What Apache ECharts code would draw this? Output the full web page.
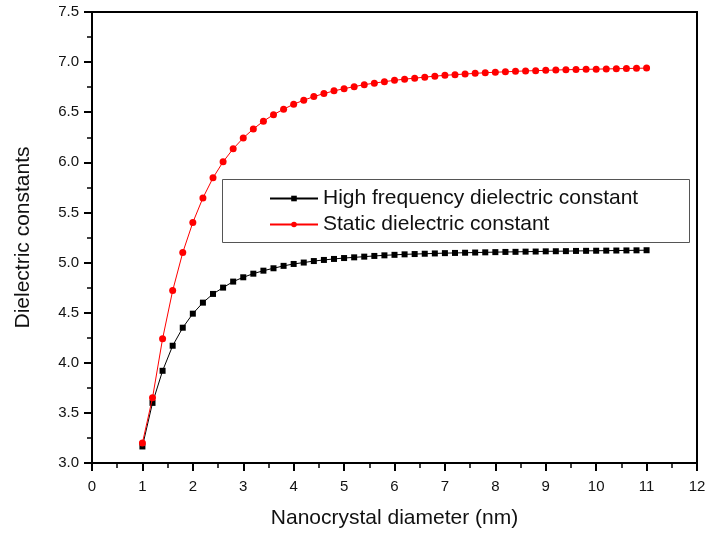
<!DOCTYPE html>
<html>
<head>
<meta charset="utf-8">
<script src="https://cdn.jsdelivr.net/npm/echarts@6/dist/echarts.min.js"></script>
<style>
  html, body { margin: 0; padding: 0; background: #fff; }
  #chart { width: 708px; height: 533px; }
</style>
</head>
<body>
<div id="chart"></div>
<script>
// Nanocrystal diameter (nm), sampled every 0.2 nm
const diameters = [
  1.0, 1.2, 1.4, 1.6, 1.8, 2.0, 2.2, 2.4, 2.6, 2.8,
  3.0, 3.2, 3.4, 3.6, 3.8, 4.0, 4.2, 4.4, 4.6, 4.8,
  5.0, 5.2, 5.4, 5.6, 5.8, 6.0, 6.2, 6.4, 6.6, 6.8,
  7.0, 7.2, 7.4, 7.6, 7.8, 8.0, 8.2, 8.4, 8.6, 8.8,
  9.0, 9.2, 9.4, 9.6, 9.8, 10.0, 10.2, 10.4, 10.6, 10.8, 11.0
];

// High frequency dielectric constant
const highFreq = [
  3.165, 3.60, 3.92, 4.17, 4.35, 4.49, 4.60, 4.687, 4.75, 4.81,
  4.853, 4.889, 4.919, 4.943, 4.967, 4.986, 5.000, 5.015, 5.026, 5.036,
  5.045, 5.052, 5.059, 5.066, 5.072, 5.077, 5.082, 5.085, 5.088, 5.091,
  5.094, 5.096, 5.098, 5.100, 5.102, 5.104, 5.106, 5.107, 5.109, 5.110,
  5.112, 5.113, 5.114, 5.116, 5.117, 5.118, 5.119, 5.120, 5.121, 5.122, 5.123
];

// Static dielectric constant
const staticConst = [
  3.20, 3.65, 4.24, 4.72, 5.10, 5.40, 5.645, 5.845, 6.005, 6.135,
  6.243, 6.333, 6.410, 6.476, 6.530, 6.580, 6.620, 6.656, 6.686, 6.713,
  6.735, 6.755, 6.775, 6.790, 6.805, 6.818, 6.830, 6.840, 6.850, 6.860,
  6.868, 6.875, 6.881, 6.888, 6.894, 6.899, 6.903, 6.908, 6.912, 6.915,
  6.918, 6.921, 6.924, 6.926, 6.928, 6.930, 6.932, 6.934, 6.936, 6.938, 6.940
];

const seriesNames = ['High frequency dielectric constant', 'Static dielectric constant'];
const xTitle = 'Nanocrystal diameter (nm)';
const yTitle = 'Dielectric constants';

const pairs = ys => diameters.map((d, i) => [d, ys[i]]);

const FONT = 'Liberation Sans, Arial, Helvetica, sans-serif';
const axisBlack = { color: '#000', width: 2 };

const chart = echarts.init(document.getElementById('chart'), null, { renderer: 'canvas' });
chart.setOption({
  animation: false,
  backgroundColor: '#fff',
  grid: {
    left: 92, right: 11, top: 12, bottom: 70,
    outerBoundsMode: 'none', containLabel: false,
    show: true, borderColor: '#000', borderWidth: 2, backgroundColor: 'transparent'
  },
  xAxis: {
    type: 'value', min: 0, max: 12, interval: 1,
    name: xTitle, nameLocation: 'middle', nameGap: 45,
    nameTextStyle: { fontFamily: FONT, fontSize: 21, color: '#111' },
    axisLine: { show: true, onZero: false, lineStyle: axisBlack },
    axisTick: { show: true, inside: false, length: 8, lineStyle: axisBlack },
    minorTick: { show: true, splitNumber: 2, length: 5, lineStyle: { color: '#000', width: 1.5 } },
    axisLabel: { fontFamily: FONT, fontSize: 15, color: '#111', margin: 16 },
    splitLine: { show: false }
  },
  yAxis: {
    type: 'value', min: 3, max: 7.5, interval: 0.5,
    name: yTitle, nameLocation: 'middle', nameGap: 58, nameRotate: 90,
    nameTextStyle: { fontFamily: FONT, fontSize: 21, color: '#111' },
    axisLine: { show: true, onZero: false, lineStyle: axisBlack },
    axisTick: { show: true, inside: false, length: 8, lineStyle: axisBlack },
    minorTick: { show: true, splitNumber: 2, length: 5, lineStyle: { color: '#000', width: 1.5 } },
    axisLabel: { fontFamily: FONT, fontSize: 15, color: '#111', margin: 13,
      formatter: v => v.toFixed(1) },
    splitLine: { show: false }
  },
  legend: {
    orient: 'vertical',
    left: 269, top: 188,
    padding: 0,
    itemWidth: 48, itemHeight: 7, itemGap: 5,
    textStyle: { fontFamily: FONT, fontSize: 21, color: '#111' },
    data: seriesNames
  },
  graphic: [{
    type: 'rect', silent: true, z: 0,
    shape: { x: 222.5, y: 179.5, width: 467, height: 63 },
    style: { fill: 'none', stroke: '#555', lineWidth: 1 }
  }],
  series: [
    {
      name: seriesNames[0], type: 'line', data: pairs(highFreq),
      symbol: 'rect', symbolSize: 6, showAllSymbol: true,
      lineStyle: { color: '#000', width: 1 },
      itemStyle: { color: '#000' },
      z: 3
    },
    {
      name: seriesNames[1], type: 'line', data: pairs(staticConst),
      symbol: 'circle', symbolSize: 7, showAllSymbol: true,
      lineStyle: { color: '#ff0000', width: 1 },
      itemStyle: { color: '#ff0000' },
      z: 4
    }
  ]
});
</script>
</body>
</html>
